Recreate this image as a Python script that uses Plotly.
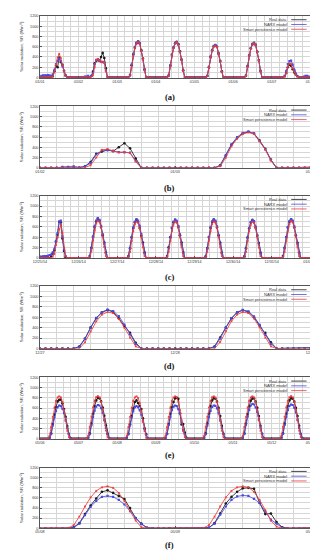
import pandas as pd
import plotly.graph_objects as go

# ---------------- data (hourly solar radiation, W/m^2) ----------------
series_names = ["Real data", "NARX model", "Smart persistence model"]

jan_real = [
    0,0,0,0,0,0,0,0,20,120,230,200,390,300,250,130,40,0,0,0,0,0,0,0,
    0,0,0,0,0,0,0,0,30,115,275,320,350,325,400,480,380,180,0,0,0,0,0,0,
    0,0,0,0,0,0,0,0,50,240,450,580,670,700,670,530,370,160,0,0,0,0,0,0,
    0,0,0,0,0,0,0,0,40,230,440,580,670,695,650,510,350,140,0,0,0,0,0,0,
    0,0,0,0,0,0,0,0,30,200,400,530,610,630,600,470,320,120,0,0,0,0,0,0,
    0,0,0,0,0,0,0,0,35,220,430,570,650,675,640,500,340,130,0,0,0,0,0,0,
    0,0,0,0,0,0,0,0,20,90,200,250,230,160,100,60,20,0,0,0,0,0,0,0,
    0]
jan_narx = [
    20,30,40,40,40,45,40,30,60,150,260,330,370,320,220,120,40,0,0,0,0,0,0,0,
    0,0,0,0,20,20,30,10,30,90,260,340,345,330,305,300,295,140,0,0,0,0,0,0,
    0,0,0,0,0,0,0,0,40,250,460,600,680,710,670,520,360,150,0,0,0,0,0,0,
    0,0,0,0,0,0,0,0,35,240,450,590,675,690,645,505,345,135,0,0,0,0,0,0,
    0,0,0,0,0,0,0,0,35,210,410,540,615,635,600,465,315,115,0,0,0,0,0,0,
    0,0,0,0,0,0,0,0,35,225,435,575,655,670,635,495,335,125,0,0,0,0,0,0,
    0,0,0,0,0,0,0,0,30,130,260,320,330,250,150,70,20,0,0,0,20,30,30,20,
    10]
jan_smart = [
    0,0,0,0,0,0,0,0,10,100,250,390,460,380,240,120,30,0,0,0,0,0,0,0,
    0,0,0,0,0,0,0,0,5,50,200,350,365,330,300,310,290,120,0,0,0,0,0,0,
    0,0,0,0,0,0,0,0,30,200,420,570,660,690,660,520,360,140,0,0,0,0,0,0,
    0,0,0,0,0,0,0,0,30,210,430,575,660,685,640,500,340,130,0,0,0,0,0,0,
    0,0,0,0,0,0,0,0,25,190,390,520,600,620,590,460,310,110,0,0,0,0,0,0,
    0,0,0,0,0,0,0,0,25,205,420,560,640,665,630,490,330,120,0,0,0,0,0,0,
    0,0,0,0,0,0,0,0,10,80,210,270,260,180,110,50,10,0,0,0,0,0,0,0,
    0]

dec_real = [
    0,0,0,0,0,0,0,40,90,150,320,450,700,690,380,140,20,0,0,0,0,0,0,0,
    0,0,0,0,0,0,0,40,200,410,600,710,760,720,600,440,300,110,0,0,0,0,0,0,
    0,0,0,0,0,0,0,40,190,400,580,690,740,700,580,430,300,110,0,0,0,0,0,0,
    0,0,0,0,0,0,0,40,210,400,580,690,735,700,600,440,300,120,0,0,0,0,0,0,
    0,0,0,0,0,0,0,35,195,405,585,695,740,705,590,435,295,105,0,0,0,0,0,0,
    0,0,0,0,0,0,0,35,190,395,575,685,730,695,585,430,290,105,0,0,0,0,0,0,
    0,0,0,0,0,0,0,40,200,405,590,700,745,705,590,435,295,110,0,0,0,0,0,0,
    0]
dec_narx = [
    30,30,35,40,40,45,60,70,110,180,330,480,700,720,420,170,40,0,0,0,0,0,0,0,
    0,0,0,0,0,0,0,35,190,410,605,720,770,735,620,460,275,95,0,0,0,0,0,0,
    0,0,0,0,0,0,0,30,180,400,590,700,745,720,620,460,270,90,0,0,0,0,0,0,
    0,0,0,0,0,0,0,30,190,400,585,700,740,715,615,455,260,90,0,0,0,0,0,0,
    0,0,0,0,0,0,0,30,185,405,590,705,745,720,610,450,265,90,0,0,0,0,0,0,
    0,0,0,0,0,0,0,30,180,395,580,695,735,710,605,445,260,85,0,0,0,0,0,0,
    0,0,0,0,0,0,0,30,190,405,595,710,750,720,610,450,265,90,0,0,0,0,0,0,
    0]
dec_smart = [
    0,0,0,0,0,0,0,0,30,80,250,400,560,650,480,200,40,0,0,0,0,0,0,0,
    0,0,0,0,0,0,0,0,130,340,535,665,715,695,585,410,215,40,0,0,0,0,0,0,
    0,0,0,0,0,0,0,0,120,330,520,650,700,680,570,400,210,40,0,0,0,0,0,0,
    0,0,0,0,0,0,0,0,125,335,525,650,700,680,575,405,210,40,0,0,0,0,0,0,
    0,0,0,0,0,0,0,0,125,335,525,655,705,685,575,405,210,40,0,0,0,0,0,0,
    0,0,0,0,0,0,0,0,120,330,520,645,695,675,570,400,205,40,0,0,0,0,0,0,
    0,0,0,0,0,0,0,0,125,335,530,660,710,690,580,410,210,40,0,0,0,0,0,0,
    0]

may_real = [
    0,0,0,0,0,0,20,110,290,470,620,730,760,765,690,580,430,250,100,15,0,0,0,0,
    0,0,0,0,0,0,20,110,300,490,640,750,800,790,730,610,450,260,100,15,0,0,0,0,
    0,0,0,0,0,0,20,100,280,450,590,720,750,700,640,580,400,200,90,10,0,0,0,0,
    0,0,0,0,0,0,10,100,290,490,620,720,790,800,780,500,280,290,120,20,0,0,0,0,
    0,0,0,0,0,0,20,110,300,490,640,750,790,785,725,605,445,255,100,15,0,0,0,0,
    0,0,0,0,0,0,20,110,300,485,635,745,785,790,725,605,445,255,100,15,0,0,0,0,
    0,0,0,0,0,0,20,110,300,490,640,750,790,785,725,605,445,255,100,15,0,0,0,0,
    0]
may_narx = [
    0,0,0,0,0,0,10,90,260,420,540,620,650,640,590,500,360,210,90,10,0,0,0,0,
    0,0,0,0,0,0,10,90,265,430,550,630,660,650,600,505,365,215,90,10,0,0,0,0,
    0,0,0,0,0,0,10,90,260,420,540,620,640,620,560,470,340,200,80,10,0,0,0,0,
    0,0,0,0,0,0,10,90,270,430,560,630,650,640,580,500,330,170,90,10,0,0,0,0,
    0,0,0,0,0,0,10,90,260,425,545,625,650,645,595,500,360,210,90,10,0,0,0,0,
    0,0,0,0,0,0,10,95,275,440,565,650,680,670,615,520,375,220,95,10,0,0,0,0,
    0,0,0,0,0,0,10,95,270,435,560,645,670,660,610,515,370,215,95,10,0,0,0,0,
    0]
may_smart = [
    0,0,0,0,0,5,60,230,430,610,740,810,830,810,720,560,360,160,30,0,0,0,0,0,
    0,0,0,0,0,5,60,235,435,615,745,815,832,812,722,562,362,162,30,0,0,0,0,0,
    0,0,0,0,0,5,60,230,430,610,740,810,830,800,700,540,340,150,20,0,0,0,0,0,
    0,0,0,0,0,5,60,230,430,610,740,810,830,810,720,560,360,150,30,0,0,0,0,0,
    0,0,0,0,0,5,60,232,432,612,742,812,828,808,718,558,358,158,30,0,0,0,0,0,
    0,0,0,0,0,5,60,230,430,610,740,810,830,810,720,560,360,160,30,0,0,0,0,0,
    0,0,0,0,0,5,60,232,432,612,742,812,832,812,722,562,362,162,30,0,0,0,0,0,
    0]

weeks = {
    "jan": ("2015-01-01", [jan_real, jan_narx, jan_smart]),
    "dec": ("2014-12-25", [dec_real, dec_narx, dec_smart]),
    "may": ("2015-05-06", [may_real, may_narx, may_smart]),
}

# panel: (week, x range, tick format, minor grid step in ms, label)
DAY = 86400000
panels = [
    ("jan", ["2015-01-01", "2015-01-08"], "%m/%d", DAY / 5, "(a)"),
    ("jan", ["2015-01-02", "2015-01-04"], "%m/%d", DAY / 8, "(b)"),
    ("dec", ["2014-12-25", "2015-01-01"], "%m/%d/%y", DAY / 5, "(c)"),
    ("dec", ["2014-12-27", "2014-12-29"], "%m/%d", DAY / 8, "(d)"),
    ("may", ["2015-05-06", "2015-05-13"], "%m/%d", DAY / 5, "(e)"),
    ("may", ["2015-05-08", "2015-05-10"], "%m/%d", DAY / 8, "(f)"),
]

# ---------------- layout geometry (pixels in a 318x550 page) ----------------
W, H = 318, 550
plot_px = [(6, 68), (97, 159), (187, 250), (278, 341), (370, 432), (461, 522)]
label_px = [88, 179, 269, 359, 448, 539]
x_dom = [26 / W, 309 / W]

colors = ["#1a1a1a", "#4a4ae0", "#ee3b3b"]
symbols = ["circle", "square", "x"]
msize = [2.6, 2.2, 2.0]
pad = pd.Timedelta(seconds=30)

fig = go.Figure()
layout = dict(
    width=W, height=H, margin=dict(l=0, r=0, t=0, b=0),
    paper_bgcolor="white", plot_bgcolor="white", showlegend=False,
    font=dict(family="Liberation Sans, Arial, sans-serif", size=4, color="#333"),
)
annotations, shapes = [], []

for i, (wk, xr, tfmt, mstep, lab) in enumerate(panels, start=1):
    start, data = weeks[wk]
    t = pd.date_range(start, periods=len(data[0]), freq="h")
    sfx = "" if i == 1 else str(i)
    xa, ya = "x" + sfx, "y" + sfx
    for k, vals in enumerate(data):
        fig.add_trace(go.Scatter(
            x=t, y=vals, name=series_names[k], mode="lines+markers",
            line=dict(color=colors[k], width=0.85),
            marker=dict(color=colors[k], size=msize[k], symbol=symbols[k]),
            xaxis=xa, yaxis=ya))
    top, bot = plot_px[i - 1]
    yd = [1 - bot / H, 1 - top / H]
    x0, x1 = pd.Timestamp(xr[0]), pd.Timestamp(xr[1])
    tick_days = pd.date_range(x0, x1, freq="D")
    layout["xaxis" + sfx] = dict(
        domain=x_dom, anchor=ya, type="date",
        range=[(x0 - pad).isoformat(), (x1 + pad).isoformat()],
        tickvals=list(tick_days), ticktext=[d.strftime(tfmt) for d in tick_days],
        tickfont=dict(size=3.7, color="#333"), ticklabeloverflow="allow",
        showgrid=True, gridcolor="#d6d6d6", gridwidth=0.5,
        minor=dict(dtick=mstep, showgrid=True, gridcolor="#d6d6d6", gridwidth=0.5),
        showline=True, linecolor="#555", linewidth=0.6, mirror=True,
        ticks="inside", ticklen=2, tickcolor="#555", tickwidth=0.5,
        zeroline=False, fixedrange=True)
    layout["yaxis" + sfx] = dict(
        domain=yd, anchor=xa, range=[0, 1200], dtick=200,
        tickfont=dict(size=3.7, color="#333"),
        showgrid=True, gridcolor="#d6d6d6", gridwidth=0.5,
        minor=dict(dtick=100, showgrid=True, gridcolor="#d6d6d6", gridwidth=0.5),
        showline=True, linecolor="#555", linewidth=0.6, mirror=True,
        ticks="inside", ticklen=2, tickcolor="#555", tickwidth=0.5,
        zeroline=False, fixedrange=True,
        title=dict(text="Solar radiation, SR (Wm\u207b\u00b2)",
                   font=dict(size=4.3, color="#333"), standoff=6))
    # legend in gnuplot style: text right-aligned, sample line to the right
    for k, name in enumerate(series_names):
        yy = 1 - (3.8 + 4.8 * k) / (bot - top)
        annotations.append(dict(
            text=name, xref=f"{xa} domain", yref=f"{ya} domain",
            x=0.922, y=yy, xanchor="right", yanchor="middle", showarrow=False,
            font=dict(size=4, color="#333")))
        shapes.append(dict(
            type="line", xref=f"{xa} domain", yref=f"{ya} domain",
            x0=0.929, x1=0.986, y0=yy, y1=yy,
            line=dict(color=colors[k], width=0.8)))
    annotations.append(dict(
        text=f"<b>{lab}</b>", xref="paper", yref="paper",
        x=162 / W, y=1 - label_px[i - 1] / H, xanchor="center", yanchor="middle",
        showarrow=False, font=dict(family="Liberation Serif, Times New Roman, serif",
                                   size=8.5, color="#111")))

layout["annotations"] = annotations
layout["shapes"] = shapes
fig.update_layout(**layout)
fig.write_html("out.html")
